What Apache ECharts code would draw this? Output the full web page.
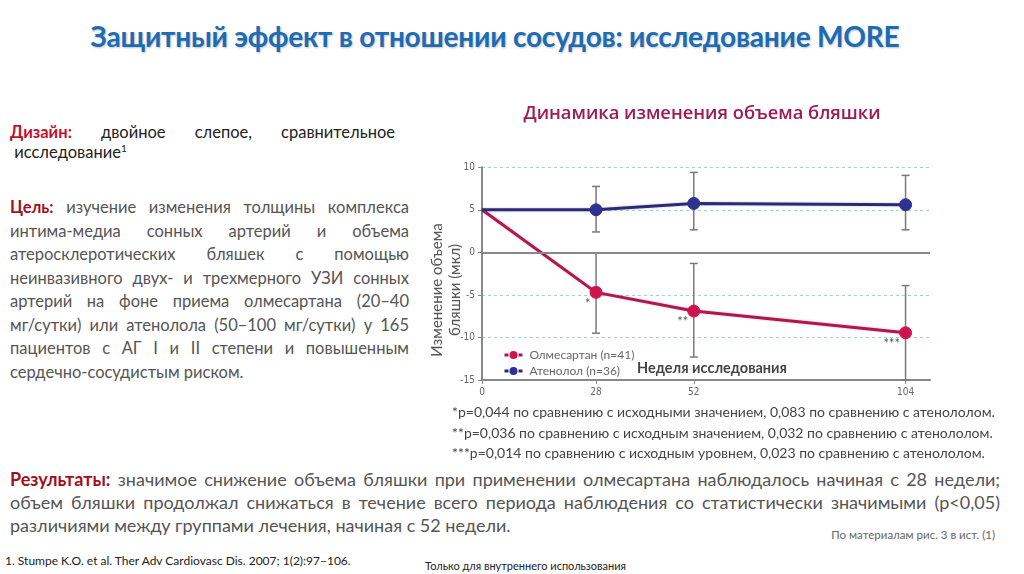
<!DOCTYPE html>
<html lang="ru">
<head>
<meta charset="utf-8">
<script src="https://cdn.jsdelivr.net/npm/echarts@6/dist/echarts.min.js"></script>
<style>
  html, body { margin:0; padding:0; background:#fff; }
  #page { position:relative; width:1024px; height:574px; overflow:hidden; font-family: Lato, "Open Sans", sans-serif; }
  .abs { position:absolute; }
  #title { left:0; width:990px; top:19px; text-align:center; font-size:28px; font-weight:bold; color:#1b6cb3; text-shadow:1px 1px 2px rgba(0,0,0,0.25); letter-spacing:-0.2px; }
  .jl { text-align:justify; text-align-last:justify; white-space:nowrap; }
  .jl.last { text-align-last:left; }
  .lbl1 { color:#c0102e; font-weight:bold; }
  .lbl2 { color:#a0101e; font-weight:bold; }
  #design { left:10px; top:122px; width:385px; font-size:16.5px; line-height:20px; color:#222; }
  #goal { left:10px; top:196px; width:399px; font-size:16.5px; line-height:23.5px; color:#555; }
  #notes { left:452px; top:402px; width:560px; font-size:14px; line-height:20.5px; color:#444; }
  #results { left:10px; top:468px; width:990px; font-size:18px; line-height:23px; color:#555; }
  #src { right:29px; top:528px; font-size:11.5px; color:#666; }
  #ref { left:5px; top:553px; font-size:12px; color:#222; }
  #internal { left:425px; top:559px; font-size:11px; color:#222; }
  #chart { left:420px; top:90px; width:600px; height:320px; }
</style>
</head>
<body>
<div id="page">
  <div id="title" class="abs">Защитный эффект в отношении сосудов: исследование MORE</div>
  <div id="design" class="abs">
    <div class="jl"><span class="lbl1">Дизайн:</span> двойное слепое, сравнительное</div>
    <div class="jl last">&nbsp;исследование<sup style="font-size:10px;line-height:0">1</sup></div>
  </div>
  <div id="goal" class="abs">
    <div class="jl"><span class="lbl2">Цель:</span> изучение изменения толщины комплекса</div>
    <div class="jl">интима-медиа сонных артерий и объема</div>
    <div class="jl">атеросклеротических бляшек с помощью</div>
    <div class="jl">неинвазивного двух- и трехмерного УЗИ сонных</div>
    <div class="jl">артерий на фоне приема олмесартана (20–40</div>
    <div class="jl">мг/сутки) или атенолола (50–100 мг/сутки) у 165</div>
    <div class="jl">пациентов с АГ I и II степени и повышенным</div>
    <div class="jl last">сердечно-сосудистым риском.</div>
  </div>
  <div id="chart" class="abs"></div>
  <div id="notes" class="abs">
    <div>*p=0,044 по сравнению с исходными значением, 0,083 по сравнению с атенололом.</div>
    <div>**p=0,036 по сравнению с исходным значением, 0,032 по сравнению с атенололом.</div>
    <div>***p=0,014 по сравнению с исходным уровнем, 0,023 по сравнению с атенололом.</div>
  </div>
  <div id="results" class="abs">
    <div class="jl"><span class="lbl2">Результаты:</span> значимое снижение объема бляшки при применении олмесартана наблюдалось начиная с 28 недели;</div>
    <div class="jl">объем бляшки продолжал снижаться в течение всего периода наблюдения со статистически значимыми (p&lt;0,05)</div>
    <div class="jl last">различиями между группами лечения, начиная с 52 недели.</div>
  </div>
  <div id="src" class="abs">По материалам рис. 3 в ист. (1)</div>
  <div id="ref" class="abs">1. Stumpe K.O. et al. Ther Adv Cardiovasc Dis. 2007; 1(2):97–106.</div>
  <div id="internal" class="abs">Только для внутреннего использования</div>
</div>
<script>
// ---- data ----
const weeks = [0, 28, 52, 104];
const olmesartan = [5, -4.7, -6.9, -9.45];
const olmLow = [null, -9.5, -12.3, -15];
const olmHigh = [null, -0.05, -1.3, -3.9];
const atenolol = [5, 5.0, 5.75, 5.6];
const atenLow = [null, 2.4, 2.65, 2.65];
const atenHigh = [null, 7.75, 9.4, 9.05];
const stars = ['', '*', '**', '***'];
const xTicks = [0, 28, 52, 104];
const seriesNames = ['Олмесартан (n=41)', 'Атенолол (n=36)'];
const chartTitle = 'Динамика изменения объема бляшки';
const yName = 'Изменение объема\nбляшки (мкл)';
const xName = 'Неделя исследования';

const olmColor = '#b3154d', olmMarker = '#d2124f';
const atnColor = '#2b2a78', atnMarker = '#2e3192';

function pairs(ys) { return weeks.map((w, i) => [w, ys[i]]); }
function errData(lo, hi) {
  const out = [];
  weeks.forEach((w, i) => { if (lo[i] !== null) out.push([w, lo[i], hi[i]]); });
  return out;
}
function renderErr(params, api) {
  const x = api.value(0);
  const p1 = api.coord([x, api.value(1)]);
  const p2 = api.coord([x, api.value(2)]);
  const w = 4;
  const st = { stroke: '#7a7a7a', lineWidth: 1.5 };
  return { type: 'group', children: [
    { type: 'line', shape: { x1: p1[0], y1: p1[1], x2: p2[0], y2: p2[1] }, style: st },
    { type: 'line', shape: { x1: p1[0]-w, y1: p1[1], x2: p1[0]+w, y2: p1[1] }, style: st },
    { type: 'line', shape: { x1: p2[0]-w, y1: p2[1], x2: p2[0]+w, y2: p2[1] }, style: st }
  ]};
}

const chart = echarts.init(document.getElementById('chart'), null, { renderer: 'canvas' });
const G = { left: 62, top: 77.3, width: 448, height: 212.7 };
chart.setOption({
  animation: false,
  textStyle: { fontFamily: 'Lato, "Open Sans", sans-serif' },
  title: { text: chartTitle, left: 277, top: 10, textAlign: 'center',
    textStyle: { fontSize: 18.3, fontWeight: 600, color: '#9e1958', fontFamily: '"Open Sans", sans-serif' } },
  grid: G,
  legend: {
    orient: 'vertical', left: 78, top: 254, itemGap: 4, itemWidth: 18, itemHeight: 10,
    data: seriesNames,
    textStyle: { fontSize: 12, color: '#666', fontFamily: 'Lato, sans-serif', padding: [0, 0, 0, 2] },
    lineStyle: { type: [4, 3], width: 3 }
  },
  xAxis: {
    type: 'value', min: 0, max: 110,
    axisLine: { onZero: false, lineStyle: { color: '#888', width: 2 } },
    axisTick: { customValues: xTicks, length: 4, lineStyle: { color: '#888' } },
    axisLabel: { customValues: xTicks, fontSize: 10, color: '#666', margin: 7,
      fontFamily: '"Liberation Sans Narrow", "DejaVu Sans Condensed", sans-serif' },
    splitLine: { show: false }
  },
  yAxis: {
    type: 'value', min: -15, max: 10, interval: 5,
    axisLine: { show: true, lineStyle: { color: '#888', width: 2 } },
    axisTick: { show: true, length: 4, lineStyle: { color: '#888' } },
    axisLabel: { fontSize: 10, color: '#666', margin: 7,
      fontFamily: '"Liberation Sans Narrow", "DejaVu Sans Condensed", sans-serif' },
    splitLine: { lineStyle: { color: '#a6cfdd', type: [3, 3], width: 1 } }
  },
  graphic: [
    { type: 'text', x: 26, y: 200, rotation: Math.PI / 2,
      style: { text: yName, fill: '#555', font: '15px Lato, sans-serif', align: 'center', verticalAlign: 'middle', lineHeight: 18 } },
    { type: 'text', x: 292, y: 278,
      style: { text: xName, fill: '#444', font: 'bold 14.5px Lato, sans-serif', align: 'center', verticalAlign: 'middle' } }
  ],
  series: [
    { name: 'errOlm', type: 'custom', renderItem: renderErr, data: errData(olmLow, olmHigh), z: 1, silent: true },
    { name: 'errAtn', type: 'custom', renderItem: renderErr, data: errData(atenLow, atenHigh), z: 1, silent: true },
    { name: seriesNames[0], type: 'line', data: pairs(olmesartan), z: 3,
      symbol: 'circle', symbolSize: (v, p) => p.dataIndex === 0 ? 0 : 12,
      lineStyle: { color: olmColor, width: 3, shadowColor: 'rgba(0,0,0,0.2)', shadowBlur: 3 },
      itemStyle: { color: olmMarker, borderColor: olmMarker },
      label: { show: true, position: 'left', distance: 0, offset: [1, 11],
        formatter: p => stars[p.dataIndex], color: '#555', fontSize: 13 } },
    { name: seriesNames[1], type: 'line', data: pairs(atenolol), z: 3,
      symbol: 'circle', symbolSize: (v, p) => p.dataIndex === 0 ? 0 : 12,
      lineStyle: { color: atnColor, width: 3, shadowColor: 'rgba(0,0,0,0.2)', shadowBlur: 3 },
      itemStyle: { color: atnMarker, borderColor: atnMarker },
      markLine: { silent: true, symbol: ['none', 'none'], label: { show: false },
        lineStyle: { color: '#888', type: 'solid', width: 2 }, data: [{ yAxis: 0 }] } }
  ]
});
</script>
</body>
</html>
